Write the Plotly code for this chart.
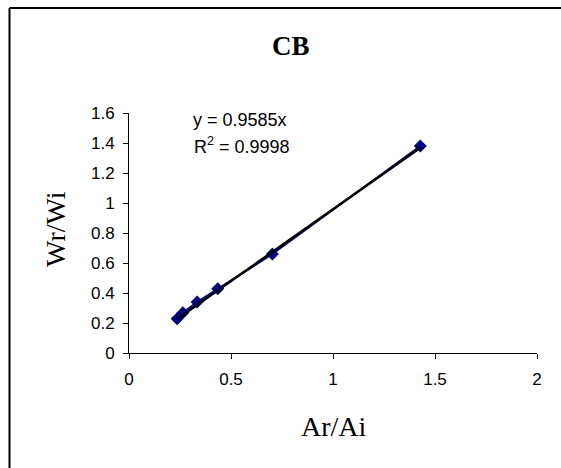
import numpy as np
import plotly.graph_objects as go

ar_ai = [0.236, 0.264, 0.334, 0.435, 0.703, 1.428]
wr_wi = [0.229, 0.269, 0.340, 0.429, 0.660, 1.380]
slope = 0.9585
r2 = 0.9998
x_ticks = [0, 0.5, 1, 1.5, 2]
y_ticks = [0, 0.2, 0.4, 0.6, 0.8, 1, 1.2, 1.4, 1.6]

fig = go.Figure()
fig.add_trace(go.Scatter(
    x=ar_ai, y=wr_wi, mode="lines+markers",
    line=dict(color="#000080", width=2),
    marker=dict(symbol="diamond", size=10, color="#000080"),
    showlegend=False, cliponaxis=False))
tx = np.array([min(ar_ai), max(ar_ai)])
fig.add_trace(go.Scatter(
    x=tx, y=slope * tx, mode="lines",
    line=dict(color="black", width=2.5), showlegend=False))

axis_common = dict(showgrid=False, zeroline=False, showline=True,
                   linecolor="black", linewidth=1, ticks="outside",
                   ticklen=5, tickcolor="black", mirror=False,
                   tickfont=dict(family="Liberation Sans, Arial", size=17, color="black"))
fig.update_xaxes(range=[0, 2], tickvals=x_ticks, ticklabelstandoff=6,
                 ticktext=[f"{v:g}" for v in x_ticks], **axis_common)
fig.update_yaxes(range=[0, 1.6], tickvals=y_ticks, ticklabelstandoff=5,
                 ticktext=[f"{v:g}" for v in y_ticks], **axis_common)

serif = "Liberation Serif, Times New Roman"
ann = [
    dict(text="<b>CB</b>", x=0.397, y=1 + (113 - 46) / 240, xref="paper", yref="paper",
         xanchor="center", yanchor="middle",
         showarrow=False, font=dict(family=serif, size=27, color="black")),
    dict(text="Ar/Ai", x=0.5025, y=-(426 - 353) / 240, xref="paper", yref="paper",
         xanchor="center", yanchor="middle",
         showarrow=False, font=dict(family=serif, size=28, color="black")),
    dict(text="Wr/Wi", x=(56 - 129) / 408, y=0.517, xref="paper", yref="paper",
         xanchor="center", yanchor="middle",
         textangle=-90, showarrow=False,
         font=dict(family=serif, size=28, color="black")),
    dict(text=f"y = {slope}x", x=0.305, y=1.551, xref="x", yref="y",
         xanchor="left", yanchor="middle", showarrow=False,
         font=dict(family="Liberation Sans, Arial", size=18, color="black")),
    dict(text=f"R<sup>2</sup> = {r2}", x=0.31, y=1.385, xref="x", yref="y",
         xanchor="left", yanchor="middle", showarrow=False,
         font=dict(family="Liberation Sans, Arial", size=18, color="black")),
]

shapes = [
    dict(type="line", xref="paper", yref="paper", x0=(9.5 - 129) / 408, x1=(9.5 - 129) / 408,
         y0=-1, y1=1 + (113 - 8) / 240, line=dict(color="black", width=2)),
    dict(type="line", xref="paper", yref="paper", x0=(9.5 - 129) / 408, x1=2,
         y0=1 + (113 - 8) / 240, y1=1 + (113 - 8) / 240, line=dict(color="black", width=2)),
]

fig.update_layout(
    width=561, height=468,
    margin=dict(l=129, r=24, t=113, b=115),
    paper_bgcolor="white", plot_bgcolor="white",
    annotations=ann, shapes=shapes,
)
fig.write_html("out.html")
